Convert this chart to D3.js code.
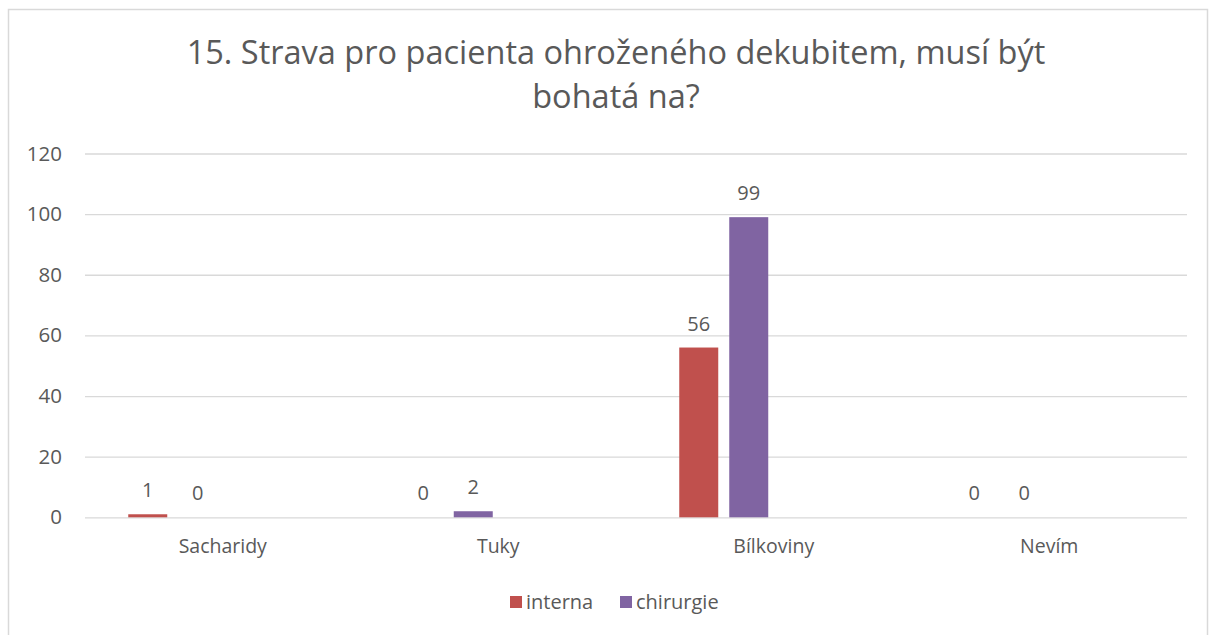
<!DOCTYPE html>
<html>
<head>
<meta charset="utf-8">
<script src="https://cdn.jsdelivr.net/npm/d3@7"></script>
<style>
  html, body { margin: 0; padding: 0; background: #fff; }
  svg { display: block; font-family: "Open Sans", "Noto Sans", sans-serif; }
</style>
</head>
<body>
<svg id="chart" width="1212" height="635"></svg>
<script>
// Survey answers: "Strava pro pacienta ohroženého dekubitem, musí být bohatá na?"
const categories = ["Sacharidy", "Tuky", "Bílkoviny", "Nevím"];
const interna = [1, 0, 56, 0];
const chirurgie = [0, 2, 99, 0];
const seriesNames = ["interna", "chirurgie"];
const seriesColors = ["#C0504D", "#8064A2"];
// The workbook's chart reserves four bar slots per category; only the first two hold data.
const slotCount = 4;
const yTicks = [0, 20, 40, 60, 80, 100, 120];
const titleLines = ["15. Strava pro pacienta ohroženého dekubitem, musí být", "bohatá na?"];

const svg = d3.select("#chart");
const plot = { left: 85, right: 1187, top: 153.5, bottom: 517.3 };
const textColor = "#595959";
const gridColor = "#D9D9D9";

// Outer chart frame
svg.append("rect")
  .attr("x", 8.5).attr("y", 9.5)
  .attr("width", 1199).attr("height", 640)
  .attr("fill", "#fff").attr("stroke", gridColor).attr("stroke-width", 1.5);

// Title
svg.append("text")
  .attr("x", 616).attr("y", 64)
  .attr("text-anchor", "middle")
  .attr("fill", textColor)
  .style("font-size", "32.5px")
  .selectAll("tspan").data(titleLines).join("tspan")
  .attr("x", 616)
  .attr("dy", (d, i) => i === 0 ? 0 : 44)
  .text(d => d);

const x = d3.scaleBand().domain(categories).range([plot.left, plot.right]).paddingInner(0).paddingOuter(0);
const y = d3.scaleLinear().domain([0, 120]).range([plot.bottom, plot.top]);

// Bar slots inside each category: 4 bars with gaps, leaving a gap at the category edges
const groupWidth = x.bandwidth() * (189 / 275.5);
const slot = d3.scaleBand().domain(d3.range(slotCount))
  .range([(x.bandwidth() - groupWidth) / 2, (x.bandwidth() + groupWidth) / 2])
  .paddingInner(11 / 50).paddingOuter(0);

// Gridlines and y-axis labels
const yAxis = d3.axisLeft(y).tickValues(yTicks).tickSize(-(plot.right - plot.left)).tickPadding(23);
const gy = svg.append("g").attr("transform", `translate(${plot.left},0)`).call(yAxis);
gy.select(".domain").remove();
gy.selectAll(".tick line").attr("stroke", gridColor).attr("stroke-width", 1.3);
gy.selectAll(".tick text").attr("fill", textColor).style("font-size", "20.5px")
  .style("font-family", "'Open Sans', sans-serif");

// Category axis labels
const xAxis = d3.axisBottom(x).tickSize(0).tickPadding(22);
const gx = svg.append("g").attr("transform", `translate(0,${plot.bottom})`).call(xAxis);
gx.select(".domain").remove();
gx.selectAll(".tick text").attr("fill", textColor).style("font-size", "19.5px")
  .style("font-family", "'Open Sans', sans-serif");

// Bars and value labels
const series = [interna, chirurgie];
series.forEach((vals, si) => {
  const g = svg.append("g");
  const data = categories.map((c, i) => ({ c, v: vals[i] }));
  g.selectAll("rect").data(data).join("rect")
    .attr("x", d => x(d.c) + slot(si))
    .attr("width", slot.bandwidth())
    .attr("y", d => y(d.v))
    .attr("height", d => y(0) - y(d.v))
    .attr("fill", seriesColors[si]);
  g.selectAll("text").data(data).join("text")
    .attr("x", d => x(d.c) + slot(si) + slot.bandwidth() / 2)
    .attr("y", d => y(d.v) - 17)
    .attr("text-anchor", "middle")
    .attr("fill", textColor)
    .style("font-size", "20px")
    .text(d => d.v);
});

// Legend
const legendItems = [
  { name: seriesNames[0], color: seriesColors[0], x: 510 },
  { name: seriesNames[1], color: seriesColors[1], x: 620 }
];
const lg = svg.append("g");
legendItems.forEach(it => {
  lg.append("rect").attr("x", it.x).attr("y", 596).attr("width", 12).attr("height", 12).attr("fill", it.color);
  lg.append("text").attr("x", it.x + 16).attr("y", 609)
    .attr("fill", textColor).style("font-size", "20px").text(it.name);
});
</script>
</body>
</html>
